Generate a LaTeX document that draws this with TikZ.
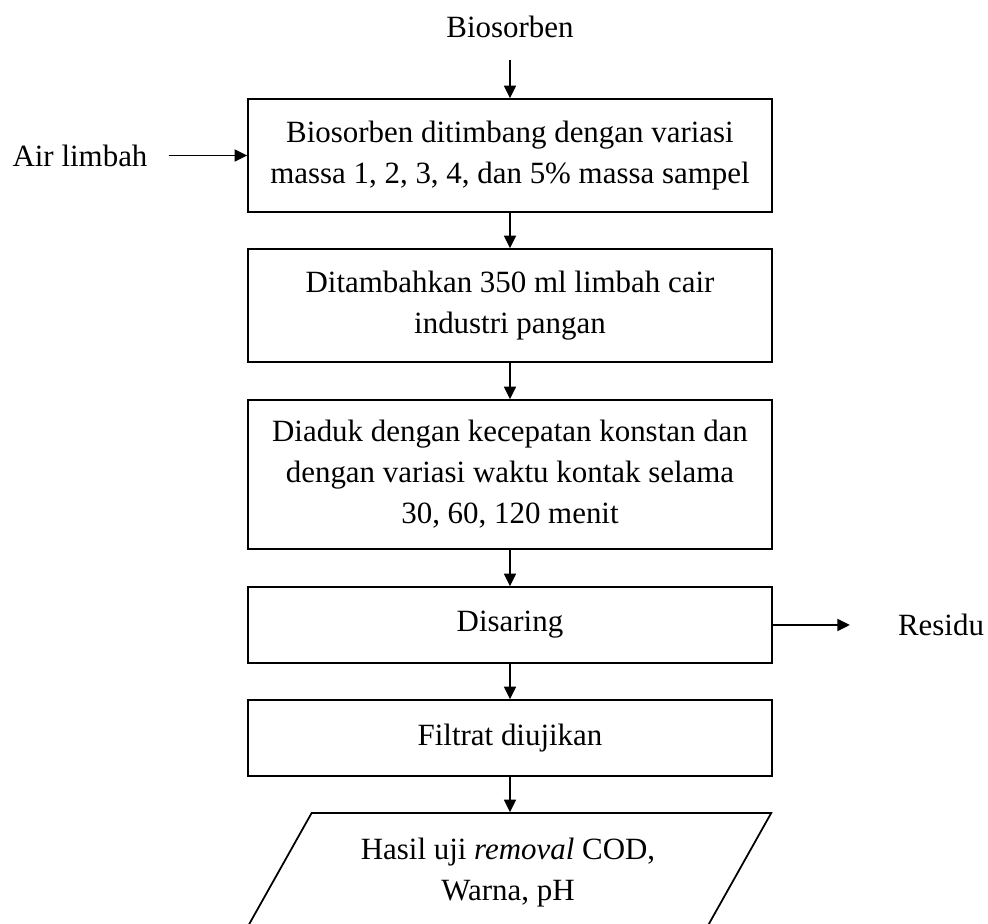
\documentclass[tikz,border=0pt]{standalone}
\usepackage{fontspec}
\setmainfont{Liberation Serif}
\usepackage{tikz}
\usetikzlibrary{arrows.meta,shapes.geometric,calc}

\tikzset{
    proses/.style={draw, line width=1pt, minimum width=10.48cm, align=center, inner sep=0pt},
    panah/.style={-{Triangle[length=0.25cm,width=0.24cm]}, line width=1pt},
    teks/.style={align=center}
}

\begin{document}
\begin{tikzpicture}[font=\fontsize{17.6pt}{23.3pt}\selectfont]

    \clip (0,0) rectangle (19.76,18.48);

    % ---------------- Input ----------------
    \node[teks] (bio) at (10.2, 17.94) {Biosorben};
    \node[teks] (air) at (1.6, 15.37) {Air limbah};

    % ---------------- Proses ----------------
    \node[proses, minimum height=2.26cm] (timbang) at (10.2, 15.37)
        {Biosorben ditimbang dengan variasi\\massa 1, 2, 3, 4, dan 5\% massa sampel};
    \node[proses, minimum height=2.26cm] (tambah) at (10.2, 12.37)
        {Ditambahkan 350 ml limbah cair\\industri pangan};
    \node[proses, minimum height=2.98cm] (aduk) at (10.2, 8.99)
        {Diaduk dengan kecepatan konstan dan\\dengan variasi waktu kontak selama\\30, 60, 120 menit};
    \node[proses, minimum height=1.52cm] (saring) at (10.2, 5.98) {Disaring};
    \node[proses, minimum height=1.52cm] (filtrat) at (10.2, 3.72) {Filtrat diujikan};

    % ---------------- Output ----------------
    \node[teks] (residu) at (18.82, 5.98) {Residu};
    \node[draw, line width=1pt, shape=trapezium, trapezium left angle=54,
          trapezium right angle=126, trapezium stretches=true,
          minimum width=10.56cm, minimum height=2.38cm, inner sep=0pt, align=center]
          (hasil) at (10.16, 1.03) {Hasil uji \textit{removal} COD,\\Warna, pH};

    % ---------------- Arrows ----------------
    \draw[panah] ([yshift=-0.32cm]bio.south) -- (timbang.north);
    \draw[panah] ([xshift=0.3cm]air.east) -- (timbang.west);
    \draw[panah] (timbang) -- (tambah);
    \draw[panah] (tambah) -- (aduk);
    \draw[panah] (aduk) -- (saring);
    \draw[panah] (saring) -- (filtrat);
    \draw[panah] (saring.east) -- ([xshift=-0.84cm]residu.west);
    \draw[panah] (filtrat.south) -- (filtrat.south |- hasil.north);

\end{tikzpicture}
\end{document}
